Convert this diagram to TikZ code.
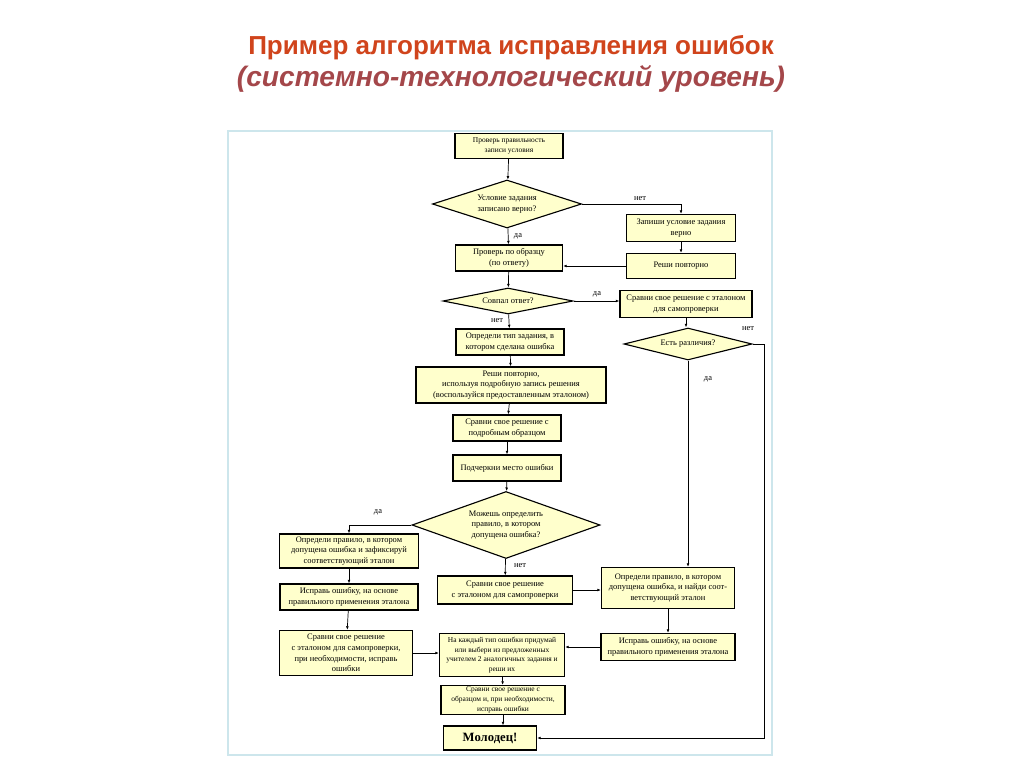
\documentclass[tikz,border=0pt]{standalone}
\usepackage{fontspec}
\setmainfont{Liberation Serif}
\newfontfamily\titlefont{Liberation Sans}
\usepackage{tikz}
\usepackage{xcolor}
\usetikzlibrary{shapes,arrows.meta,positioning,calc}

\definecolor{boxfill}{RGB}{255,255,204}
\definecolor{titleone}{RGB}{208,68,28}
\definecolor{titletwo}{RGB}{164,71,74}
\definecolor{framecol}{RGB}{205,230,236}

\newcommand{\boxfont}{\fontsize{6}{7.5}\selectfont}
\newcommand{\smallboxfont}{\fontsize{5.3}{6.9}\selectfont}

\begin{document}
\begin{tikzpicture}[x=0.025cm, y=-0.025cm,
    sz/.style 2 args={minimum width=#1*0.025cm, minimum height=#2*0.025cm},
    blok/.style={rectangle, draw, fill=boxfill, line width=0.8pt, font=\boxfont, align=center, inner sep=1pt},
    romb/.style={diamond, draw, fill=boxfill, line width=0.8pt, font=\boxfont, align=center, inner sep=0pt, aspect=3},
    lbl/.style={font=\boxfont, inner sep=1pt},
    arrow/.style={-{Latex[length=2.6pt,width=2pt]}, line width=0.5pt}
]
    \useasboundingbox (0,0) rectangle (1024,767);

    % title
    \node[font=\titlefont\bfseries\fontsize{18.5}{22}\selectfont, text=titleone] (t1) at (511,48) {Пример алгоритма исправления ошибок};
    \node[font=\titlefont\bfseries\itshape\fontsize{20}{24}\selectfont, text=titletwo] (t2) at (511,79) {(системно-технологический уровень)};

    % frame
    \draw[framecol, line width=1.5pt] (228,131) rectangle (772,755);

    % main column
    \node[blok, sz={108}{25}, font=\smallboxfont] (b1) at (509,146) {Проверь правильность\\записи условия};
    \node[romb, sz={149}{48}] (d1) at (507,204) {Условие задания\\записано верно?};
    \node[blok, sz={107}{26}] (b3) at (509,258) {Проверь по образцу\\(по ответу)};
    \node[romb, sz={130}{26}, aspect=5] (d2) at (508,301) {Совпал ответ?};
    \node[blok, sz={108}{26}] (b6) at (510,342) {Определи тип задания, в\\котором сделана ошибка};
    \node[blok, sz={190}{36}] (b7) at (511,385) {Реши повторно,\\используя подробную запись решения\\(воспользуйся предоставленным эталоном)};
    \node[blok, sz={108}{26}] (b8) at (507,428) {Сравни свое решение с\\подробным образцом};
    \node[blok, sz={108}{26}] (b9) at (507,468) {Подчеркни место ошибки};
    \node[romb, sz={188}{67}] (d4) at (506,525) {Можешь определить\\правило, в котором\\допущена ошибка?};
    \node[blok, sz={135}{28}] (b13) at (505,590) {Сравни свое решение\\с эталоном для самопроверки};
    \node[blok, sz={125}{43}, font=\smallboxfont] (b16) at (502,655) {На каждый тип ошибки придумай\\или выбери из предложенных\\учителем 2 аналогичных задания и\\реши их};
    \node[blok, sz={124}{29}, font=\smallboxfont] (b17) at (503,700) {Сравни свое решение с\\образцом и, при необходимости,\\исправь ошибки};
    \node[blok, sz={93}{24}, font=\bfseries\fontsize{9}{10}\selectfont] (b18) at (490,738) {Молодец!};

    % right column
    \node[blok, sz={109}{27}] (b2) at (681,228) {Запиши условие задания\\верно};
    \node[blok, sz={109}{25}] (b4) at (681,266) {Реши повторно};
    \node[blok, sz={132}{27}] (b5) at (686,304) {Сравни свое решение с эталоном\\для самопроверки};
    \node[romb, sz={128}{32}, aspect=4] (d3) at (688,344) {Есть различия?};
    \node[blok, sz={133}{41}] (b14) at (668,588) {Определи правило, в котором\\допущена ошибка, и найди соот-\\ветствующий эталон};
    \node[blok, sz={134}{27}] (b15) at (668,647) {Исправь ошибку, на основе\\правильного применения эталона};

    % left column
    \node[blok, sz={139}{34}] (b10) at (349,551) {Определи правило, в котором\\допущена ошибка и зафиксируй\\соответствующий эталон};
    \node[blok, sz={138}{26}] (b11) at (349,597) {Исправь ошибку, на основе\\правильного применения эталона};
    \node[blok, sz={133}{45}] (b12) at (346,653) {Сравни свое решение\\с эталоном для самопроверки,\\при необходимости, исправь\\ошибки};

    % labels
    \node[lbl] (l1) at (640,199) {нет};
    \node[lbl] (l2) at (518,236) {да};
    \node[lbl] (l3) at (597,294) {да};
    \node[lbl] (l4) at (497,321) {нет};
    \node[lbl] (l5) at (748,329) {нет};
    \node[lbl] (l6) at (708,379) {да};
    \node[lbl] (l7) at (378,512) {да};
    \node[lbl] (l8) at (520,566) {нет};

    % connectors
    \draw[arrow] (b1) -- (d1);
    \draw[arrow] (d1.east) -| (b2.north);
    \draw[arrow] (d1) -- (b3);
    \draw[arrow] (b2) -- (b4);
    \draw[arrow] (b4.west) -- (b4.west -| b3.east);
    \draw[arrow] (b3) -- (d2);
    \draw[arrow] (d2.east) -- (d2.east -| b5.west);
    \draw[arrow] (d2) -- (b6);
    \draw[arrow] (b5.south) -- (b5.south |- d3.north);
    \draw[arrow] (d3.east) -- ++(12,0) |- (b18.east);
    \draw[arrow] (d3.south) -- (d3.south |- b14.north);
    \draw[arrow] (b6) -- (b7);
    \draw[arrow] (b7) -- (b8);
    \draw[arrow] (b8) -- (b9);
    \draw[arrow] (b9) -- (d4);
    \draw[arrow] (d4.west) -| (b10.north);
    \draw[arrow] (d4) -- (b13);
    \draw[arrow] (b13.east) -- (b13.east -| b14.west);
    \draw[arrow] (b14) -- (b15);
    \draw[arrow] (b15.west) -- (b15.west -| b16.east);
    \draw[arrow] (b10) -- (b11);
    \draw[arrow] (b11) -- (b12);
    \draw[arrow] (b12.east) -- (b12.east -| b16.west);
    \draw[arrow] (b16) -- (b17);
    \draw[arrow] (b17.south) -- (b17.south |- b18.north);
\end{tikzpicture}
\end{document}
